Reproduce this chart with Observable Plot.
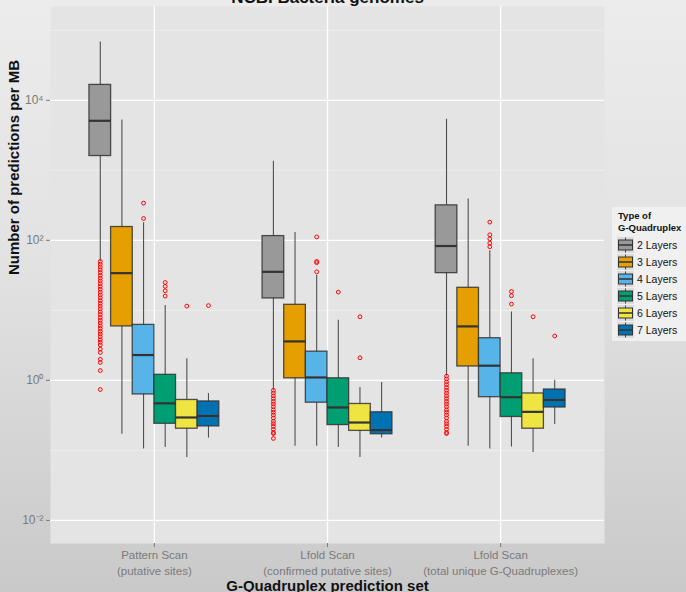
<!DOCTYPE html>
<html>
<head>
<meta charset="utf-8">
<script src="https://cdn.jsdelivr.net/npm/d3@7"></script>
<script src="https://cdn.jsdelivr.net/npm/@observablehq/plot@0.6"></script>
<style>
  html, body { margin: 0; padding: 0; }
  body { width: 686px; height: 592px; position: relative; overflow: hidden;
         background: linear-gradient(to bottom, #ececec 0%, #e2e2e2 45%, #c9c9c9 100%);
         font-family: "Liberation Sans", Arial, sans-serif; }
  #chart { position: absolute; left: 0; top: 0; }
  #legend { position: absolute; left: 612px; top: 207px; width: 74px; height: 134px;
            background: #f0f0f0; font-size: 10.5px; color: #111; }
  #legend .title { font-weight: bold; font-size: 9.5px; line-height: 12px; margin: 3px 0 2px 6px; }
  #legend .item { display: flex; align-items: center; height: 17px; margin-left: 5px; }
  #legend .item svg { margin-right: 3px; }
</style>
</head>
<body>
<div id="chart"></div>
<div id="legend"></div>
<script>
// ---- data ----
const groups = [
  "Pattern Scan\n(putative sites)",
  "Lfold Scan\n(confirmed putative sites)",
  "Lfold Scan\n(total unique G-Quadruplexes)"
];
const layers = ["2 Layers", "3 Layers", "4 Layers", "5 Layers", "6 Layers", "7 Layers"];
const layerColors = ["#999999", "#E69F00", "#56B4E9", "#009E73", "#F0E442", "#0072B2"];

// per group: values for 2..7 layers
const whiskerLow = [
  [50,    0.17,  0.105, 0.11,  0.079, 0.15],
  [0.72,  0.115, 0.115, 0.11,  0.079, 0.15],
  [1.15,  0.115, 0.105, 0.112, 0.093, 0.234]
];
const lowerQuartile = [
  [1600,  5.9,   0.63,  0.24,  0.204, 0.22],
  [14.8,  1.07,  0.48,  0.23,  0.19,  0.17],
  [34,    1.58,  0.575, 0.30,  0.204, 0.41]
];
const medians = [
  [5100,  34,    2.3,   0.47,  0.295, 0.31],
  [35.5,  3.6,   1.1,   0.41,  0.25,  0.195],
  [83,    5.9,   1.62,  0.575, 0.355, 0.525]
];
const upperQuartile = [
  [16600, 155,   6.2,   1.2,   0.525, 0.50],
  [115,   12,    2.57,  1.07,  0.46,  0.35],
  [316,   21,    4.0,   1.26,  0.65,  0.74]
];
const whiskerHigh = [
  [68000, 5250,  178,   11.7,  2.04,  0.65],
  [1350,  129,   31.6,  7.2,   0.79,  0.93],
  [5370,  390,   71,    9.5,   2.04,  1.0]
];

const outliersPatternScan = [
  [50, 45.7, 41.7, 38, 34.7, 31.6, 28.8, 26.3, 24, 21.9, 20, 18.2, 16.6, 15.1, 13.8, 12.6,
   11.5, 10.5, 9.5, 8.7, 7.9, 7.2, 6.6, 6.0, 5.5, 5.0, 4.6, 4.2, 3.8, 3.5, 3.2,
   2.8, 2.5, 2.0, 1.8, 1.38, 0.74],
  [],
  [340, 205],
  [25, 22, 19, 16],
  [11.5],
  [11.7]
];
const outliersLfoldConfirmed = [
  [0.72, 0.66, 0.60, 0.55, 0.50, 0.46, 0.42, 0.38, 0.35, 0.32, 0.29, 0.26, 0.24, 0.22,
   0.20, 0.18, 0.174, 0.148],
  [],
  [112, 50, 48, 35.5],
  [18.2],
  [8.1, 2.1],
  []
];
const outliersLfoldTotal = [
  [1.15, 1.05, 0.95, 0.87, 0.79, 0.72, 0.66, 0.60, 0.55, 0.50, 0.46, 0.42, 0.38, 0.35,
   0.32, 0.29, 0.26, 0.24, 0.22, 0.20, 0.18, 0.174],
  [],
  [182, 120, 105, 91, 81],
  [18.6, 16.2, 12.3],
  [8.1],
  [4.3]
];
const outlierSets = [outliersPatternScan, outliersLfoldConfirmed, outliersLfoldTotal];

const yMajorTicks = [1e-2, 1, 1e2, 1e4];
const yTickLabels = ["10⁻²", "10⁰", "10²", "10⁴"];
const yMinorTicks = [1e-1, 1e1, 1e3, 1e5];

// ---- build tables ----
const dodge = 0.75 / layers.length;
const pos = (g, l) => g + 1 + (l - (layers.length - 1) / 2) * dodge;

const boxes = [];
groups.forEach((g, gi) => layers.forEach((layer, li) => {
  boxes.push({
    group: g, layer, x: pos(gi, li),
    x1: pos(gi, li) - dodge / 2, x2: pos(gi, li) + dodge / 2,
    lo: whiskerLow[gi][li], q1: lowerQuartile[gi][li], med: medians[gi][li],
    q3: upperQuartile[gi][li], hi: whiskerHigh[gi][li]
  });
}));
const outliers = [];
outlierSets.forEach((set, gi) => set.forEach((vals, li) => vals.forEach(v =>
  outliers.push({x: pos(gi, li), value: v, layer: layers[li]}))));

const chart = Plot.plot({
  width: 686,
  height: 592,
  marginLeft: 50,
  marginRight: 82,
  marginTop: 6,
  marginBottom: 49,
  style: {background: "transparent", fontFamily: "Liberation Sans, Arial, sans-serif"},
  x: {type: "linear", domain: [0.4, 3.6]},
  y: {type: "log", domain: [10 ** -2.33, 10 ** 5.34]},
  color: {domain: layers, range: layerColors},
  marks: [
    Plot.frame({fill: "#e4e4e4", stroke: null}),
    Plot.ruleY(yMinorTicks, {stroke: "#f2f2f2", strokeWidth: 0.7}),
    Plot.ruleY(yMajorTicks, {stroke: "#ffffff", strokeWidth: 1.3}),
    Plot.ruleX([1, 2, 3], {stroke: "#ffffff", strokeWidth: 1.3}),
    Plot.ruleX(boxes, {x: "x", y1: "lo", y2: "hi", stroke: "#505050", strokeWidth: 1.1}),
    Plot.rect(boxes, {x1: "x1", x2: "x2", y1: "q1", y2: "q3", fill: "layer",
                      stroke: "#333333", strokeWidth: 1.3, strokeOpacity: 0.85}),
    Plot.ruleY(boxes, {x1: "x1", x2: "x2", y: "med", stroke: "#333333", strokeWidth: 2.2}),
    Plot.dot(outliers, {x: "x", y: "value", r: 1.9, stroke: "#ff0000", fill: "none", strokeWidth: 1}),
    Plot.axisY({ticks: yMajorTicks, tickFormat: (d, i) => yTickLabels[yMajorTicks.indexOf(d)],
                tickSize: 4, tickPadding: 3, fontSize: 12, color: "#7a7a7a", label: null}),
    Plot.axisX({ticks: [1, 2, 3], tickFormat: d => groups[d - 1], tickSize: 4, tickPadding: 0,
                fontSize: 11.5, lineHeight: 1.42, color: "#7a7a7a", label: null}),
    Plot.text(["NCBI Bacteria genomes"], {frameAnchor: "top", dy: -4, fontSize: 17, fontWeight: "bold",
                fill: "#111", lineAnchor: "bottom"}),
    Plot.text(["G-Quadruplex prediction set"], {frameAnchor: "bottom", dy: 47, fontSize: 15,
                fontWeight: "bold", fill: "#111"}),
    Plot.text(["Number of predictions per MB"], {frameAnchor: "left", dx: -36, rotate: -90,
                fontSize: 15, fontWeight: "bold", fill: "#111"})
  ]
});
document.getElementById("chart").appendChild(chart);

// legend
const legend = document.getElementById("legend");
legend.innerHTML = '<div class="title">Type of<br>G-Quadruplex</div>' +
  layers.map((l, i) => `<div class="item"><svg width="17" height="16">
     <rect x="0" y="0" width="17" height="16" fill="#dcdcdc"/>
     <line x1="8.5" y1="0.5" x2="8.5" y2="15.5" stroke="#444" stroke-width="1"/>
     <rect x="1.5" y="3" width="14" height="10" fill="${layerColors[i]}" stroke="#333" stroke-width="1"/>
     <line x1="1.5" y1="8" x2="15.5" y2="8" stroke="#333" stroke-width="1.5"/>
   </svg><span>${l}</span></div>`).join("");
</script>
</body>
</html>
